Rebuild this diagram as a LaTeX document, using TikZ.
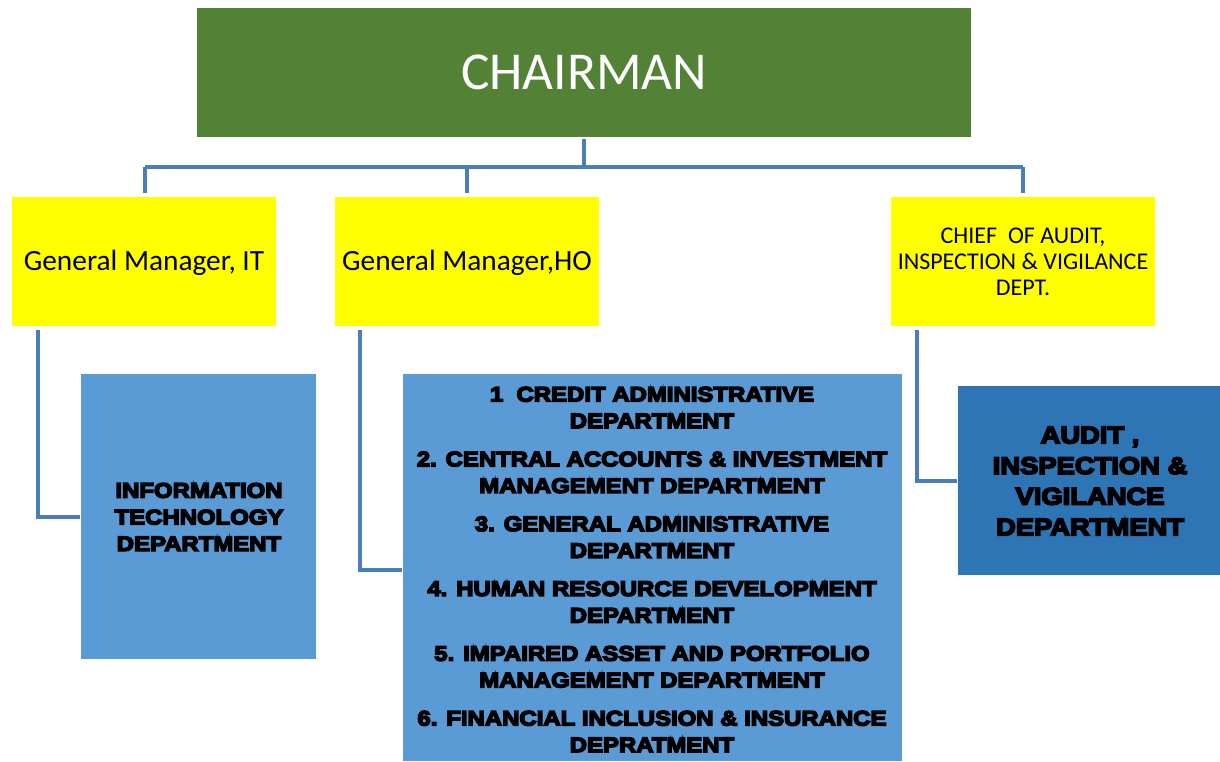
\documentclass[tikz,border=0pt]{standalone}
\usepackage{fontspec}
\setmainfont{Carlito}
\newfontfamily\heavy{Liberation Sans Bold}[FakeBold=7,FakeStretch=1.14]
\definecolor{chairgreen}{HTML}{538135}
\definecolor{gmyellow}{HTML}{FFFF00}
\definecolor{deptblue}{HTML}{5B9BD5}
\definecolor{auditblue}{HTML}{2E75B6}
\definecolor{linkblue}{HTML}{4A7EBB}
\tikzset{
  box/.style={draw=none, inner sep=0pt},
  link/.style={draw=linkblue, line width=2.6pt},
  gmtext/.style={font=\fontsize{22}{26}\selectfont, align=center},
  depttext/.style={font=\heavy\fontsize{15.75}{20}\selectfont, align=center},
}
\begin{document}
\begin{tikzpicture}[x=0.75pt, y=-0.75pt]
\useasboundingbox (0,0) rectangle (1220,761);
\fill[white] (0,0) rectangle (1220,761);

% boxes
\fill[chairgreen] (197,8) rectangle (971,137);
\node[box, text=white, font=\fontsize{40}{48}\selectfont] (chair) at (584,72) {CHAIRMAN};
\coordinate (chairS) at (584,139);

\fill[gmyellow] (12,197) rectangle (276,326);
\fill[gmyellow] (335,197) rectangle (599,326);
\fill[gmyellow] (891,197) rectangle (1155,326);
\node[gmtext] (gmit) at (144,263) {General Manager, IT};
\node[gmtext] (gmho) at (467,263) {General Manager,HO};
\node[align=center, font=\fontsize{18}{19.5}\selectfont] (chief) at (1023,262)
  {CHIEF\ \ OF AUDIT,\\INSPECTION \& VIGILANCE\\DEPT.};

\fill[deptblue] (81,374) rectangle (316,659);
\fill[deptblue] (403,374) rectangle (902,761);
\fill[auditblue] (958,386) rectangle (1220,575);

\node[depttext] (itd) at (199,517)
  {INFORMATION\\TECHNOLOGY\\DEPARTMENT};
\node[depttext] (hod) at (652,569.5)
  {1\ \ CREDIT ADMINISTRATIVE\\DEPARTMENT\\[8.6pt]
   2. CENTRAL ACCOUNTS \& INVESTMENT\\MANAGEMENT DEPARTMENT\\[8.6pt]
   3. GENERAL ADMINISTRATIVE\\DEPARTMENT\\[8.6pt]
   4. HUMAN RESOURCE DEVELOPMENT\\DEPARTMENT\\[8.6pt]
   5. IMPAIRED ASSET AND PORTFOLIO\\MANAGEMENT DEPARTMENT\\[8.6pt]
   6. FINANCIAL INCLUSION \& INSURANCE\\DEPRATMENT};
\node[depttext, font=\heavy\fontsize{18}{23}\selectfont] (aud) at (1090,481)
  {AUDIT ,\\INSPECTION \&\\VIGILANCE\\DEPARTMENT};

% connector anchors
\coordinate (busL) at (145,167);
\coordinate (busR) at (1023,167);
\coordinate (itN) at (145,193);
\coordinate (hoN) at (467,193);
\coordinate (chN) at (1023,193);
\coordinate (itS) at (38,330);
\coordinate (hoS) at (360,330);
\coordinate (chS) at (917,330);
\coordinate (itdW) at (80,517);
\coordinate (hodW) at (402,570);
\coordinate (audW) at (957,481);

% connectors
\draw[link] (chairS) -- (584,167);
\draw[link] (busL) -- (busR);
\draw[link] (busL) -- (itN);
\draw[link] (467,167) -- (hoN);
\draw[link] (busR) -- (chN);
\draw[link] (itS) |- (itdW);
\draw[link] (hoS) |- (hodW);
\draw[link] (chS) |- (audW);
\end{tikzpicture}
\end{document}
